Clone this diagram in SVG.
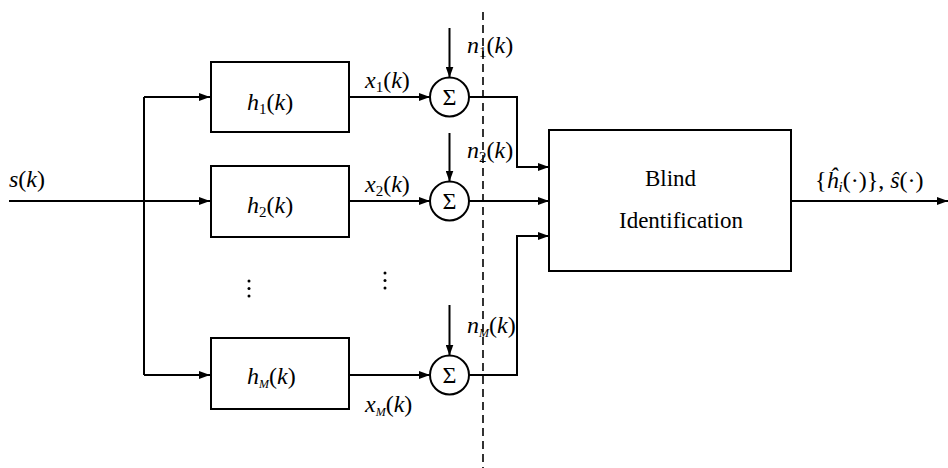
<svg xmlns="http://www.w3.org/2000/svg" width="948" height="468" viewBox="0 0 948 468">
<style>
.box{fill:#fff;stroke:#000;stroke-width:2}
.sum{fill:#fff;stroke:#000;stroke-width:2}
.ln{fill:none;stroke:#000;stroke-width:2}
.dash{fill:none;stroke:#000;stroke-width:1.6;stroke-dasharray:8,5}
.t{font-size:24px}
.i{font-style:italic}
.sub{font-size:15px}
.sm{font-size:12px}
.big{font-size:23px}
.dot{fill:#000}
</style>
<defs>
<marker id="ah" markerUnits="userSpaceOnUse" markerWidth="11" markerHeight="8" refX="11" refY="4" orient="auto">
<path d="M0,0 L11,4 L0,8 z" fill="#000"/>
</marker>
</defs>

<g id="connectors">
<path class="ln" d="M9,201 H210" marker-end="url(#ah)"/>
<path class="ln" d="M144,97 V375"/>
<path class="ln" d="M144,97 H210" marker-end="url(#ah)"/>
<path class="ln" d="M144,375 H210" marker-end="url(#ah)"/>
<path class="ln" d="M349,97 H430" marker-end="url(#ah)"/>
<path class="ln" d="M349,201 H430" marker-end="url(#ah)"/>
<path class="ln" d="M349,375 H430" marker-end="url(#ah)"/>
<path class="ln" d="M449.5,28 V77.5" marker-end="url(#ah)"/>
<path class="ln" d="M449.5,133 V181.5" marker-end="url(#ah)"/>
<path class="ln" d="M449.5,305 V355.5" marker-end="url(#ah)"/>
<path class="ln" d="M469,97 H517 V167 H549" marker-end="url(#ah)"/>
<path class="ln" d="M469,201 H549" marker-end="url(#ah)"/>
<path class="ln" d="M469,375 H517 V236 H549" marker-end="url(#ah)"/>
<path class="ln" d="M791,201 H948" marker-end="url(#ah)"/>
<path class="dash" d="M483,12 V468"/>
</g>

<g font-family="Liberation Serif, Times New Roman, serif" fill="#000">
<g id="h1">
<rect class="box" x="211" y="62" width="138" height="70"/>
<text class="t" x="247" y="110"><tspan class="i">h</tspan><tspan class="sub" dy="4">1</tspan><tspan dy="-4">(</tspan><tspan class="i">k</tspan>)</text>
</g>
<g id="h2">
<rect class="box" x="211" y="166" width="138" height="71"/>
<text class="t" x="247" y="213"><tspan class="i">h</tspan><tspan class="sub" dy="4">2</tspan><tspan dy="-4">(</tspan><tspan class="i">k</tspan>)</text>
</g>
<g id="hM">
<rect class="box" x="211" y="338" width="138" height="71"/>
<text class="t" x="247" y="384"><tspan class="i">h</tspan><tspan class="sm i" dy="4">M</tspan><tspan dy="-4">(</tspan><tspan class="i">k</tspan>)</text>
</g>

<g id="sum1">
<circle class="sum" cx="449.5" cy="97" r="19.5"/>
<text x="449.5" y="105" text-anchor="middle" font-size="24">Σ</text>
</g>
<g id="sum2">
<circle class="sum" cx="449.5" cy="201" r="19.5"/>
<text x="449.5" y="209" text-anchor="middle" font-size="24">Σ</text>
</g>
<g id="sumM">
<circle class="sum" cx="449.5" cy="375" r="19.5"/>
<text x="449.5" y="383" text-anchor="middle" font-size="24">Σ</text>
</g>

<g id="blind">
<rect class="box" x="549" y="130" width="242" height="141"/>
<text class="big" x="645" y="186">Blind</text>
<text class="big" x="619" y="228">Identification</text>
</g>

<g id="labels">
<text class="t" x="9" y="187"><tspan class="i">s</tspan>(<tspan class="i">k</tspan>)</text>
<text class="t" x="365" y="88"><tspan class="i">x</tspan><tspan class="sub" dy="4">1</tspan><tspan dy="-4">(</tspan><tspan class="i">k</tspan>)</text>
<text class="t" x="365" y="192"><tspan class="i">x</tspan><tspan class="sub" dy="4">2</tspan><tspan dy="-4">(</tspan><tspan class="i">k</tspan>)</text>
<text class="t" x="365" y="412"><tspan class="i">x</tspan><tspan class="sm i" dy="4">M</tspan><tspan dy="-4">(</tspan><tspan class="i">k</tspan>)</text>
<text class="t" x="467" y="53"><tspan class="i">n</tspan><tspan class="sub" dy="4">1</tspan><tspan dy="-4">(</tspan><tspan class="i">k</tspan>)</text>
<text class="t" x="467" y="158"><tspan class="i">n</tspan><tspan class="sub" dy="4">2</tspan><tspan dy="-4">(</tspan><tspan class="i">k</tspan>)</text>
<text class="t" x="467" y="333"><tspan class="i">n</tspan><tspan class="sm i" dy="4">M</tspan><tspan dy="-4">(</tspan><tspan class="i">k</tspan>)</text>
<text class="t" x="815" y="188" font-size="21">{<tspan class="i">ĥ</tspan><tspan class="sub i" dy="4">i</tspan><tspan dy="-4">(·)},  </tspan><tspan class="i">ŝ</tspan>(·)</text>
<circle class="dot" cx="249" cy="281" r="1.5"/>
<circle class="dot" cx="249" cy="288.5" r="1.5"/>
<circle class="dot" cx="249" cy="296" r="1.5"/>
<circle class="dot" cx="385" cy="273" r="1.5"/>
<circle class="dot" cx="385" cy="280.5" r="1.5"/>
<circle class="dot" cx="385" cy="288" r="1.5"/>
</g>
</g>
</svg>
